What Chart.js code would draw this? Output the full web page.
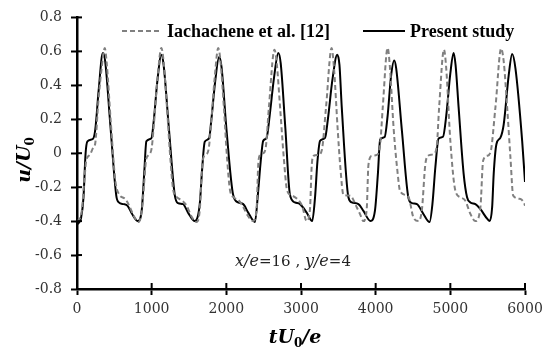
<!DOCTYPE html>
<html>
<head>
<meta charset="utf-8">
<script src="https://cdn.jsdelivr.net/npm/chart.js@4.4.1/dist/chart.umd.min.js"></script>
<style>
  body { margin: 0; background: #ffffff; }
</style>
</head>
<body>
<canvas id="velocity_chart" width="555" height="350"></canvas>
<script>
// tick values of both axes
const xTickValues = [0, 1000, 2000, 3000, 4000, 5000, 6000];
const yTickValues = [-0.8, -0.6, -0.4, -0.2, 0, 0.2, 0.4, 0.6, 0.8];

const seriesNames = ['Iachachene et al. [12]', 'Present study'];

// Iachachene et al. [12] (dashed grey)
const tRef = [
    0, 30, 64, 100, 125, 170, 215, 245, 285, 330, 372, 400, 450, 513, 560, 647, 700, 760, 826,
    870, 902, 925, 960, 1000, 1030, 1080, 1130, 1160, 1205, 1250, 1290, 1340, 1410, 1470, 1530, 1600,
    1645, 1670, 1690, 1725, 1765, 1795, 1845, 1892, 1922, 1967, 2010, 2050, 2100, 2170, 2230, 2290, 2360,
    2405, 2427, 2450, 2494, 2530, 2570, 2645, 2675, 2720, 2770, 2814, 2881, 2950, 3015, 3076,
    3120, 3144, 3170, 3233, 3280, 3335, 3410, 3442, 3490, 3530, 3568, 3658, 3748, 3792, 3836,
    3880, 3903, 3950, 4016, 4060, 4095, 4160, 4192, 4240, 4290, 4329, 4436, 4507, 4574,
    4620, 4664, 4700, 4776, 4820, 4850, 4915, 4945, 5000, 5067, 5134, 5201, 5268, 5336,
    5403, 5439, 5493, 5537, 5604, 5680, 5715, 5761, 5805, 5842, 5940, 5993, 6000
];
const uRef = [
    -0.40, -0.39, -0.34, -0.15, -0.04, -0.01, 0.03, 0.06, 0.30, 0.50, 0.62, 0.52, 0.20, -0.16, -0.24, -0.27, -0.31, -0.37, -0.405,
    -0.33, -0.16, -0.04, -0.01, 0.03, 0.17, 0.45, 0.62, 0.54, 0.27, -0.03, -0.22, -0.26, -0.28, -0.31, -0.37, -0.405,
    -0.33, -0.12, -0.03, -0.01, 0.03, 0.17, 0.45, 0.62, 0.54, 0.27, -0.03, -0.22, -0.26, -0.28, -0.32, -0.37, -0.40,
    -0.33, -0.07, -0.01, 0.00, 0.04, 0.27, 0.61, 0.53, 0.27, -0.03, -0.22, -0.25, -0.27, -0.31, -0.40,
    -0.33, -0.07, -0.015, -0.01, 0.02, 0.27, 0.62, 0.50, 0.15, -0.10, -0.245, -0.25, -0.32, -0.36, -0.40,
    -0.33, -0.07, -0.015, -0.01, 0.05, 0.27, 0.62, 0.50, 0.15, -0.10, -0.226, -0.255, -0.38, -0.40,
    -0.33, -0.07, -0.015, -0.005, 0.05, 0.27, 0.61, 0.50, 0.073, -0.22, -0.26, -0.28, -0.357, -0.40,
    -0.318, -0.045, -0.015, 0.004, 0.27, 0.616, 0.54, 0.27, -0.025, -0.25, -0.27, -0.30, -0.31
];

// Present study (solid black)
const tPresent = [
    0, 25, 55, 87, 115, 140, 215, 245, 290, 346, 378, 446, 526, 560, 624, 678, 736, 816,
    866, 900, 929, 996, 1030, 1075, 1130, 1160, 1230, 1309, 1353, 1420, 1487, 1577,
    1644, 1675, 1711, 1769, 1800, 1850, 1903, 1935, 2000, 2091, 2158, 2226, 2293, 2383,
    2427, 2460, 2494, 2539, 2580, 2640, 2696, 2728, 2790, 2852, 2919, 2987, 3076, 3150,
    3188, 3220, 3255, 3322, 3360, 3420, 3485, 3515, 3546, 3635, 3680, 3769, 3836, 3930,
    3990, 4030, 4060, 4120, 4160, 4205, 4248, 4275, 4352, 4440, 4486, 4553, 4642, 4722,
    4760, 4800, 4843, 4902, 4945, 5000, 5044, 5070, 5111, 5178, 5224, 5268, 5336, 5403, 5493, 5527,
    5560, 5581, 5617, 5671, 5715, 5782, 5828, 5872, 5962, 6000
];
const uPresent = [
    -0.42, -0.41, -0.38, -0.26, 0.00, 0.07, 0.085, 0.14, 0.37, 0.59, 0.54, 0.17, -0.25, -0.29, -0.30, -0.31, -0.357, -0.40,
    -0.34, -0.12, 0.07, 0.088, 0.20, 0.42, 0.58, 0.52, 0.15, -0.245, -0.294, -0.30, -0.35, -0.40,
    -0.30, -0.10, 0.067, 0.087, 0.20, 0.42, 0.566, 0.51, 0.15, -0.245, -0.29, -0.30, -0.35, -0.405,
    -0.22, -0.05, 0.073, 0.09, 0.22, 0.45, 0.59, 0.53, 0.15, -0.245, -0.29, -0.30, -0.35, -0.40,
    -0.26, -0.05, 0.073, 0.09, 0.20, 0.43, 0.58, 0.52, 0.27, -0.26, -0.29, -0.30, -0.34, -0.40,
    -0.34, -0.12, 0.08, 0.095, 0.22, 0.45, 0.546, 0.50, 0.13, -0.265, -0.294, -0.30, -0.36, -0.405,
    -0.30, -0.08, 0.087, 0.097, 0.22, 0.47, 0.59, 0.52, 0.27, -0.12, -0.26, -0.29, -0.30, -0.33, -0.386, -0.40,
    -0.318, -0.12, 0.053, 0.092, 0.17, 0.46, 0.585, 0.50, 0.073, -0.17
];

const serif = '"DejaVu Serif", serif';
const times = '"Liberation Serif", serif';

// draws text pieces one after the other (for subscripts / mixed italic)
function drawParts(ctx, parts, x, y) {
    let total = 0;
    parts.forEach(p => { ctx.font = p.font; total += ctx.measureText(p.text).width; });
    let cx = x - total / 2;
    parts.forEach(p => {
        ctx.font = p.font;
        ctx.fillText(p.text, cx, y + (p.dy || 0));
        cx += ctx.measureText(p.text).width;
    });
}

const decorPlugin = {
    id: 'decor',
    afterDraw(chart) {
        const ctx = chart.ctx;
        const xs = chart.scales.x, ys = chart.scales.y;
        const area = chart.chartArea;
        ctx.save();
        ctx.strokeStyle = '#000';
        ctx.lineWidth = 2;
        // inner half of the cross ticks
        xTickValues.forEach(v => {
            const px = xs.getPixelForValue(v);
            ctx.beginPath(); ctx.moveTo(px, area.bottom); ctx.lineTo(px, area.bottom - 6); ctx.stroke();
        });
        yTickValues.forEach(v => {
            const py = ys.getPixelForValue(v);
            ctx.beginPath(); ctx.moveTo(area.left, py); ctx.lineTo(area.left + 5, py); ctx.stroke();
        });

        // legend
        ctx.textBaseline = 'middle';
        ctx.textAlign = 'left';
        ctx.font = 'bold 18px ' + times;
        ctx.fillStyle = '#000';
        const ly = 31;
        ctx.strokeStyle = '#808080';
        ctx.setLineDash([5, 3]);
        ctx.beginPath(); ctx.moveTo(122, ly); ctx.lineTo(162, ly); ctx.stroke();
        ctx.setLineDash([]);
        ctx.fillText(seriesNames[0], 167, ly + 1);
        ctx.strokeStyle = '#000';
        ctx.beginPath(); ctx.moveTo(363, ly); ctx.lineTo(405, ly); ctx.stroke();
        ctx.fillText(seriesNames[1], 410, ly + 1);

        // annotation
        ctx.fillStyle = '#222';
        ctx.textBaseline = 'alphabetic';
        const it = 'italic 16px ' + serif;
        const rg = '15px ' + serif;
        drawParts(ctx, [
            { text: 'x/e', font: it },
            { text: '=16 , ', font: rg },
            { text: 'y/e', font: it },
            { text: '=4', font: rg }
        ], 293, 266);

        // x axis title
        ctx.fillStyle = '#000';
        const bt = 'italic bold 19px ' + serif;
        const sb = 'bold 12px ' + serif;
        drawParts(ctx, [
            { text: 'tU', font: bt },
            { text: '0', font: sb, dy: 4 },
            { text: '/e', font: bt }
        ], 295, 343);

        // y axis title
        ctx.translate(30, 160);
        ctx.rotate(-Math.PI / 2);
        drawParts(ctx, [
            { text: 'u/U', font: bt },
            { text: '0', font: sb, dy: 4 },
        ], 0, 0);
        ctx.restore();
    }
};

let ctx = document.getElementById('velocity_chart').getContext('2d');

let data = {
    datasets: [
        {
            label: seriesNames[0],
            data: tRef.map((t, i) => ({ x: t, y: uRef[i] })),
            borderColor: '#808080',
            borderWidth: 2,
            borderDash: [5, 3],
            pointRadius: 0,
            cubicInterpolationMode: 'monotone'
        },
        {
            label: seriesNames[1],
            data: tPresent.map((t, i) => ({ x: t, y: uPresent[i] })),
            borderColor: '#000000',
            borderWidth: 2,
            pointRadius: 0,
            cubicInterpolationMode: 'monotone'
        }
    ]
};

let velocity_chart = new Chart(ctx, {
    type: 'line',
    data: data,
    options: {
        responsive: false,
        animation: false,
        layout: { padding: { top: 16, right: 30, left: 0, bottom: 0 } },
        scales: {
            x: {
                type: 'linear',
                min: 0,
                max: 6000,
                afterBuildTicks: scale => { scale.ticks = xTickValues.map(v => ({ value: v })); },
                afterFit: scale => { scale.height = 61; },
                border: { display: true, color: '#000', width: 2.5 },
                grid: { display: true, drawOnChartArea: false, drawTicks: true, tickLength: 6, tickColor: '#000', tickWidth: 2 },
                ticks: {
                    color: '#333333',
                    padding: 6,
                    maxRotation: 0,
                    font: { family: serif, size: 14 },
                    callback: v => String(v)
                }
            },
            y: {
                min: -0.8,
                max: 0.8,
                afterBuildTicks: scale => { scale.ticks = yTickValues.map(v => ({ value: v })); },
                afterFit: scale => { scale.width = 77; },
                border: { display: true, color: '#000', width: 2.5 },
                grid: { display: true, drawOnChartArea: false, drawTicks: true, tickLength: 6, tickColor: '#000', tickWidth: 2 },
                ticks: {
                    color: '#333333',
                    padding: 9,
                    font: { family: serif, size: 14 },
                    callback: v => String(Number(v.toFixed(1)))
                }
            }
        },
        plugins: {
            legend: { display: false },
            tooltip: { enabled: false }
        }
    },
    plugins: [decorPlugin]
});
</script>
</body>
</html>
